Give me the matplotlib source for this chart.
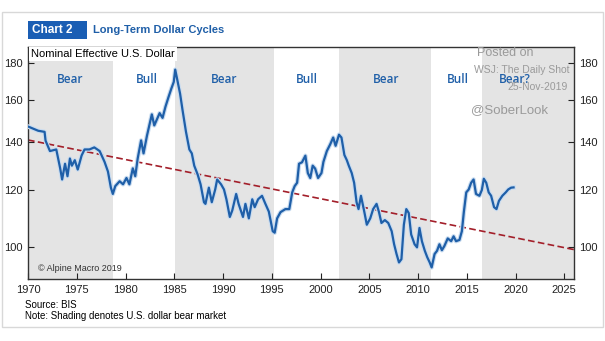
import matplotlib.pyplot as plt
from matplotlib.patches import Rectangle

# nominal effective U.S. dollar (BIS)
years = [1970.0, 1971.05, 1971.7, 1971.8, 1972.25, 1972.9, 1973.3, 1973.5, 1973.8, 1974.05,
         1974.3, 1974.5, 1974.8, 1975.1, 1975.5, 1975.8, 1976.3, 1976.8, 1977.35, 1977.85,
         1978.2, 1978.5, 1978.7, 1978.95, 1979.4, 1979.75, 1980.1, 1980.4, 1980.75, 1981.0,
         1981.25, 1981.6, 1981.85, 1982.2, 1982.7, 1982.95, 1983.5, 1983.8, 1984.1, 1984.4,
         1984.7, 1984.95, 1985.1, 1985.35, 1985.6, 1985.85, 1986.2, 1986.55, 1986.8, 1987.05,
         1987.4, 1987.7, 1988.05, 1988.2, 1988.55, 1988.85, 1989.2, 1989.4, 1989.8, 1990.1,
         1990.35, 1990.7, 1990.95, 1991.35, 1991.6, 1992.05, 1992.3, 1992.65, 1993.0, 1993.25,
         1993.6, 1994.0, 1994.35, 1994.7, 1995.1, 1995.3, 1995.55, 1995.9, 1996.4, 1996.8,
         1997.1, 1997.35, 1997.6, 1997.8, 1998.1, 1998.45, 1998.7, 1998.95, 1999.2, 1999.45,
         1999.75, 2000.1, 2000.3, 2000.65, 2001.0, 2001.3, 2001.55, 2001.9, 2002.15, 2002.45,
         2002.7, 2002.9, 2003.2, 2003.45, 2003.7, 2003.9, 2004.15, 2004.5, 2004.75, 2005.1,
         2005.4, 2005.75, 2006.0, 2006.25, 2006.6, 2006.95, 2007.3, 2007.55, 2007.8, 2008.05,
         2008.3, 2008.55, 2008.8, 2009.05, 2009.3, 2009.65, 2009.9, 2010.15, 2010.4, 2010.7,
         2010.95, 2011.2, 2011.4, 2011.7, 2011.95, 2012.2, 2012.45, 2012.7, 2013.05, 2013.4,
         2013.65, 2013.9, 2014.25, 2014.5, 2014.7, 2014.95, 2015.2, 2015.45, 2015.7, 2015.95,
         2016.3, 2016.55, 2016.75, 2017.0, 2017.25, 2017.5, 2017.8, 2018.05, 2018.3, 2018.65,
         2019.0, 2019.25, 2019.55, 2019.8]
usd = [147.0, 145.0, 144.5, 140.5, 135.9, 136.6, 128.6, 124.1, 130.5, 125.4,
       132.7, 129.7, 132.0, 128.1, 134.0, 136.6, 136.6, 137.5, 135.9, 131.3,
       127.3, 120.9, 118.5, 121.5, 123.4, 122.2, 124.7, 122.2, 128.6, 125.4,
       132.7, 140.6, 134.9, 142.7, 152.8, 147.5, 153.4, 151.1, 156.6, 161.3,
       165.9, 169.5, 176.3, 169.5, 163.2, 154.9, 144.6, 136.6, 134.9, 129.7,
       126.1, 122.2, 115.4, 114.8, 120.9, 115.4, 120.2, 124.1, 122.2, 120.2,
       116.5, 110.1, 112.4, 118.5, 114.8, 110.1, 114.8, 109.6, 116.5, 113.6,
       116.5, 117.8, 114.8, 112.0, 105.2, 104.7, 109.6, 111.8, 112.9, 112.9,
       119.1, 121.5, 122.8, 130.5, 131.1, 133.9, 126.7, 124.7, 129.7, 128.5,
       124.7, 126.7, 131.3, 135.9, 138.9, 141.9, 138.2, 143.2, 141.9, 134.2,
       132.0, 129.7, 126.7, 122.8, 115.4, 112.9, 117.8, 111.8, 107.4, 109.6,
       112.9, 114.8, 111.8, 108.0, 109.0, 108.0, 105.2, 100.9, 97.8, 95.2,
       96.2, 107.4, 112.9, 111.5, 104.1, 100.9, 99.9, 106.3, 101.9, 98.8,
       96.8, 95.2, 93.7, 97.8, 98.8, 100.9, 99.0, 100.3, 102.8, 101.9,
       103.5, 101.9, 102.3, 105.2, 111.8, 119.1, 120.2, 122.8, 124.1, 118.5,
       117.8, 120.0, 124.4, 122.8, 119.1, 117.8, 113.6, 112.9, 115.9, 117.8,
       119.1, 120.2, 120.9, 121.0]

# bear market shading (start, end)
bear_periods = [(1970.0, 1978.7), (1985.1, 1995.2), (2001.9, 2011.3), (2016.6, 2026.0)]
cycle_labels = ['Bear', 'Bull', 'Bear', 'Bull', 'Bear', 'Bull', 'Bear?']
cycle_label_x = [1974.3, 1982.2, 1990.1, 1998.6, 2006.7, 2014.1, 2019.9]

# long-term trend line end points
trend_x = [1970.0, 2026.0]
trend_y = [140.8, 99.2]

x_ticks = [1970, 1975, 1980, 1985, 1990, 1995, 2000, 2005, 2010, 2015, 2020, 2025]
y_ticks = [100, 120, 140, 160, 180]

blue = '#1f5fa8'
plt.rcParams['font.family'] = ['Liberation Sans', 'DejaVu Sans']

fig = plt.figure(figsize=(6.05, 3.41), dpi=100)
fig.patches.append(Rectangle((2 / 605, 1 - 327 / 341), 601 / 605, 315 / 341,
                             transform=fig.transFigure, fill=False,
                             edgecolor='#d8d8d8', linewidth=1))

ax = fig.add_axes([28 / 605, 1 - 279 / 341, 546 / 605, 232 / 341])
ax.set_yscale('log')
ax.set_xlim(1970, 2026)
ax.set_ylim(90.3, 189.5)

for start, end in bear_periods:
    ax.axvspan(start, end, color='#e4e4e4', lw=0, zorder=0)

ax.plot(trend_x, trend_y, color='#a31f2a', lw=1.2, ls=(0, (4, 2)), zorder=2)
ax.plot(years, usd, color='#c9dcf0', lw=3.2, zorder=3, solid_joinstyle='round')
ax.plot(years, usd, color=blue, lw=1.6, zorder=4, solid_joinstyle='round')

for lab, xl in zip(cycle_labels, cycle_label_x):
    ax.text(xl, 0.858, lab, transform=ax.get_xaxis_transform(), ha='center',
            va='center', color=blue, fontsize=8.5, family=['Open Sans', 'DejaVu Sans'],
            fontweight='semibold')

ax.text(0.006, 0.993, 'Nominal Effective U.S. Dollar', transform=ax.transAxes,
        ha='left', va='top', fontsize=8, color='black',
        bbox=dict(facecolor='white', edgecolor='none', pad=1.5), zorder=5)
ax.text(0.018, 0.045, '\u00a9 Alpine Macro 2019', transform=ax.transAxes,
        ha='left', va='center', fontsize=6.5, color='#333333')

ax.set_xticks(x_ticks)
ax.set_yticks(y_ticks)
ax.set_yticklabels([str(v) for v in y_ticks])
ax.yaxis.set_minor_locator(plt.NullLocator())
ax.tick_params(axis='both', direction='in', length=4, width=0.8, labelsize=8,
               colors='#222222', pad=4)
ax.tick_params(axis='y', right=True, labelright=True)
for s in ax.spines.values():
    s.set_color('#333333')
    s.set_linewidth(1.0)

# header
fig.patches.append(Rectangle((28 / 605, 1 - 39 / 341), 59 / 605, 18 / 341,
                             transform=fig.transFigure, facecolor='#1a5eb4',
                             edgecolor='none'))
fig.text(32 / 605, 1 - 30 / 341, 'Chart 2', ha='left', va='center',
         color='white', fontsize=8.5, fontweight='bold')
fig.text(93 / 605, 1 - 30 / 341, 'Long-Term Dollar Cycles', ha='left', va='center',
         color=blue, fontsize=8, fontweight='bold')

# footer
fig.text(25 / 605, 1 - 305 / 341, 'Source: BIS', ha='left', va='center',
         fontsize=7, color='black')
fig.text(25 / 605, 1 - 316 / 341, 'Note: Shading denotes U.S. dollar bear market',
         ha='left', va='center', fontsize=7, color='black')

# watermark
wm = '#9a9a9a'
fig.text(505 / 605, 1 - 53 / 341, 'Posted on', ha='center', va='center',
         fontsize=9, color=wm, zorder=20)
fig.text(522 / 605, 1 - 70 / 341, 'WSJ: The Daily Shot', ha='center', va='center',
         fontsize=7.5, color=wm, zorder=20)
fig.text(538 / 605, 1 - 87 / 341, '25-Nov-2019', ha='center', va='center',
         fontsize=7.5, color=wm, zorder=20)
fig.text(509 / 605, 1 - 110 / 341, '@SoberLook', ha='center', va='center',
         fontsize=9.5, color=wm, zorder=20)

fig.savefig('out.png', dpi=100)
